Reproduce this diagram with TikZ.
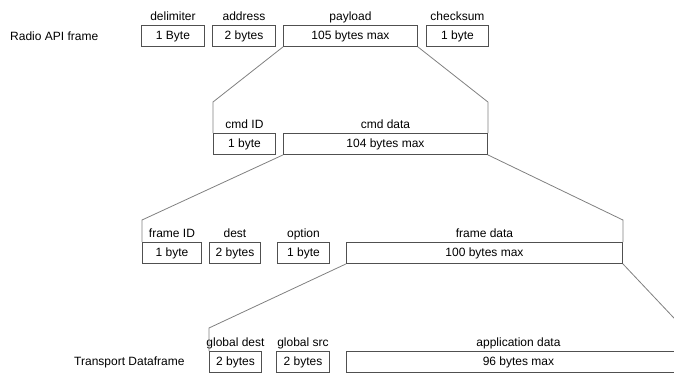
\documentclass[tikz,border=0pt]{standalone}
\usepackage{fontspec}
\setmainfont{Liberation Sans}
\usetikzlibrary{positioning}
\definecolor{boxline}{HTML}{505050}
\definecolor{zoomline}{HTML}{808080}
\begin{document}
\begin{tikzpicture}[x=1pt,y=-1pt,
  every node/.style={font=\fontsize{12}{14}\selectfont, text=black},
  field/.style={draw=boxline, line width=0.9pt, rectangle, anchor=north west,
    minimum height=21pt, inner sep=0pt, text height=9pt, text depth=2.5pt},
  lbl/.style={inner sep=1.5pt, text height=9pt, text depth=3pt},
  rowname/.style={anchor=west, inner sep=0pt},
  zoom/.style={draw=zoomline, line width=0.8pt, line join=miter}]
\useasboundingbox (0,0) rectangle (674,375);

% Radio API frame
\node[rowname] (radio) at (10,36) {Radio API frame};
\node[field, minimum width=63pt] (delim) at (141,25) {1 Byte};
\node[field, minimum width=63pt] (addr) at (212,25) {2 bytes};
\node[field, minimum width=134pt] (payload) at (283,25) {105 bytes max};
\node[field, minimum width=62pt] (chk) at (426,25) {1 byte};
\node[lbl, above=0pt of delim] (delimL) {delimiter};
\node[lbl, above=0pt of addr] (addrL) {address};
\node[lbl, above=0pt of payload] (payloadL) {payload};
\node[lbl, above=0pt of chk] (chkL) {checksum};

% payload
\node[field, minimum width=62pt] (cmdid) at (213,133) {1 byte};
\node[field, minimum width=204pt] (cmddata) at (283,133) {104 bytes max};
\node[lbl, above=0pt of cmdid] (cmdidL) {cmd ID};
\node[lbl, above=0pt of cmddata] (cmddataL) {cmd data};

% cmd data
\node[field, minimum width=59pt] (frameid) at (142,242) {1 byte};
\node[field, minimum width=51pt] (dest) at (209,242) {2 bytes};
\node[field, minimum width=52pt] (option) at (277,242) {1 byte};
\node[field, minimum width=276pt] (framedata) at (346,242) {100 bytes max};
\node[lbl, above=0pt of frameid] (frameidL) {frame ID};
\node[lbl, above=0pt of dest] (destL) {dest};
\node[lbl, above=0pt of option] (optionL) {option};
\node[lbl, above=0pt of framedata] (framedataL) {frame data};

% Transport Dataframe
\node[rowname] (transport) at (74,362) {Transport Dataframe};
\node[field, minimum width=52pt] (gdest) at (209,351) {2 bytes};
\node[field, minimum width=53pt] (gsrc) at (276,351) {2 bytes};
\node[field, minimum width=344pt] (appdata) at (346,351) {96 bytes max};
\node[lbl, above=0pt of gdest] (gdestL) {global dest};
\node[lbl, above=0pt of gsrc] (gsrcL) {global src};
\node[lbl, above=0pt of appdata] (appdataL) {application data};

% bend heights of the zoom connectors
\coordinate (bendA) at (0,102);
\coordinate (bendB) at (0,220);
\coordinate (bendC) at (0,328);
\coordinate (bendD) at (0,336);

\draw[zoom] (payload.south west) -- (cmdid.north west |- bendA) -- (cmdid.north west);
\draw[zoom] (payload.south east) -- (cmddata.north east |- bendA) -- (cmddata.north east);
\draw[zoom] (cmddata.south west) -- (frameid.north west |- bendB) -- (frameid.north west);
\draw[zoom] (cmddata.south east) -- (framedata.north east |- bendB) -- (framedata.north east);
\draw[zoom] (framedata.south west) -- (gdest.north west |- bendC) -- (gdest.north west);
\draw[zoom] (framedata.south east) -- (appdata.north east |- bendD) -- (appdata.north east);
\end{tikzpicture}
\end{document}
